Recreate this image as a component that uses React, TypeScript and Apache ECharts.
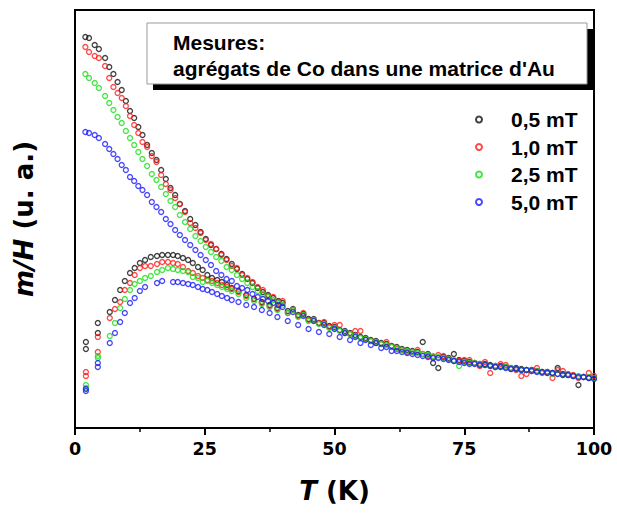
import React, { useEffect, useRef } from 'react';
import * as echarts from 'echarts';

const FONT = '"Liberation Sans", Arial, Helvetica, sans-serif';
const WIDE = '"DejaVu Sans", Verdana, sans-serif';

// Temperature grids (K)
const T_FC = [2, 2.7, 3.8, 4.6, 5.8, 6.6, 7.4, 8.2, 9, 9.8, 10.6, 11.4, 12.2, 13, 13.9, 14.8, 15.7, 16.6, 17.5, 18.4, 19.3, 20.2,
  21.2, 22.2, 23.2, 24.2, 25.2, 26.2, 27.2, 28.2, 29.2, 30.2, 31.2, 32.2, 33.2, 34.2, 35.2, 36.2, 37.2, 38.2, 39.2, 40,
  42, 44, 46, 48, 50, 52, 54, 56, 58, 60, 62, 64, 66, 68, 70, 72, 74, 76, 78, 80, 82, 84, 86, 88, 90, 92, 94, 96, 98, 100];
const T_ZFC = [2.1, 2.1, 4.4, 4.4, 6.7, 7.7, 8.7, 9.6, 10.6, 11.5, 12.5, 13.5, 14.6, 15.8, 16.8, 17.9, 18.9, 19.8, 20.8, 21.8,
  22.7, 23.7, 24.6, 25.5, 26.4, 27.4, 28.3, 29.3, 30.2, 31.5, 33, 34.5, 36, 37.5, 39,
  41, 43, 45, 47, 49, 51, 53, 55, 57, 59, 61, 63, 65, 67, 69, 71, 73, 75, 77, 79, 81, 83, 85, 87, 89, 91, 93, 95, 97, 99];

// m/H (arbitrary units), field-cooled branches
const FC_05 = [391, 390, 383, 379, 370, 361, 354, 346, 338, 327, 317, 310, 301, 293, 283, 275, 268, 258, 249, 240, 233, 224,
  217, 209, 203, 196, 189, 183, 179, 174, 169, 164, 159, 154, 149, 145, 140, 136, 133, 130, 127, 125,
  119, 114, 109, 105, 101, 97, 93, 90, 87, 84, 81, 78, 76, 74, 60, 70, 68, 66, 64, 63, 62, 60, 59, 58, 56, 55, 54, 52, 51, 50];
const FC_10 = [381, 376, 372, 370, 362, 350, 341, 335, 330, 322, 312, 303, 295, 286, 281, 272, 266, 253, 244, 238, 230, 224,
  216, 205, 200, 195, 188, 184, 179, 173, 168, 162, 160, 153, 150, 146, 141, 138, 132, 131, 126, 127,
  118, 115, 108, 106, 103, 95, 97, 89, 85, 86, 79, 76, 78, 72, 73, 69, 67, 68, 62, 55, 64, 59, 52, 58, 55, 50, 57, 53, 51, 52];
const FC_25 = [354, 350, 345, 340, 332, 325, 318, 311, 305, 297, 290, 283, 276, 269, 262, 254, 248, 241, 234, 227, 221, 213,
  206, 199, 192, 187, 181, 176, 171, 167, 161, 158, 153, 149, 145, 141, 137, 134, 131, 128, 125, 123,
  118, 113, 108, 104, 100, 96, 92, 89, 86, 83, 80, 77, 75, 73, 71, 69, 62, 65, 64, 62, 61, 60, 58, 57, 56, 54, 53, 52, 51, 50];
const FC_50 = [296, 295, 293, 290, 284, 279, 274, 269, 263, 258, 251, 247, 242, 238, 233, 226, 221, 216, 209, 204, 198, 193,
  188, 183, 178, 173, 168, 163, 157, 153, 149, 147, 142, 140, 138, 134, 131, 129, 127, 125, 123, 121,
  116, 112, 107, 103, 99, 95, 91, 88, 85, 81, 77, 75, 73, 71, 70, 68, 66, 64, 63, 62, 61, 59, 58, 57, 56, 55, 53, 52, 51, 49];

// zero-field-cooled branches
const ZFC_05 = [86, 79, 105, 95, 116, 128, 138, 147, 155, 160, 165, 168, 171, 172, 173, 173, 173, 172, 170, 168,
  165, 161, 158, 153, 150, 148, 146, 143, 140, 137, 133, 129, 126, 123, 120,
  117, 113, 109, 105, 102, 98, 95, 91, 88, 85, 82, 79, 77, 86, 65, 71, 74, 67, 65, 64, 62, 61, 60, 58, 57, 56, 60, 53, 43, 50];
const ZFC_10 = [56, 52, 76, 91, 110, 119, 126, 138, 145, 153, 160, 162, 162, 164, 166, 166, 165, 164, 161, 157,
  155, 152, 150, 148, 147, 145, 143, 141, 139, 136, 132, 129, 125, 122, 119,
  115, 112, 108, 105, 101, 103, 94, 97, 87, 84, 82, 78, 76, 74, 71, 72, 67, 68, 65, 66, 61, 63, 58, 54, 60, 56, 58, 54, 50, 55];
const ZFC_25 = [40, 43, 70, 72, 92, 105, 120, 129, 138, 144, 147, 150, 152, 156, 158, 160, 159, 158, 157, 156,
  151, 150, 146, 147, 145, 143, 141, 139, 137, 134, 130, 127, 124, 121, 118,
  115, 111, 107, 104, 100, 97, 94, 90, 87, 84, 81, 78, 76, 74, 72, 70, 68, 66, 65, 63, 62, 61, 59, 58, 57, 55, 54, 53, 52, 51];
const ZFC_50: (number | string)[] = [37, 39, 61, 65, 85, 95, 106, 115, 125, 130, 137, 141, '-', 145, 147, '-', 146, 146, 145, 144,
  143, 141, 139, 138, 136, 134, 132, 130, 128, 126, 123, 121, 118, 115, 111,
  107, 103, 99, 96, 94, 91, 88, 85, 83, 80, 77, 76, 74, 72, 70, 69, 67, 65, 64, 63, 61, 60, 59, 58, 56, 55, 54, 53, 51, 50];

const FIELDS = ['0,5 mT', '1,0 mT', '2,5 mT', '5,0 mT'];
const COLORS = ['#111111', '#ff1a1a', '#16e016', '#1a1aff'];
const X_TICKS = [0, 25, 50, 75, 100];
const BOX_TITLE = 'Mesures:';
const BOX_TEXT = "agrégats de Co dans une matrice d'Au";

const pairs = (t: number[], v: (number | string)[]) => t.map((x, i) => [x, v[i]]);

const nameRich = {
  i: { fontStyle: 'italic', fontWeight: 'bold', fontSize: 26, fontFamily: WIDE, color: '#000' },
  b: { fontWeight: 'bold', fontSize: 26, fontFamily: WIDE, color: '#000' },
};

export default function App() {
  const ref = useRef<HTMLDivElement>(null);
  useEffect(() => {
    const chart = echarts.init(ref.current!, null, { renderer: 'svg' });
    const fc = [FC_05, FC_10, FC_25, FC_50];
    const zfc = [ZFC_05, ZFC_10, ZFC_25, ZFC_50];
    const option: any = {
      animation: false,
      backgroundColor: '#fff',
      textStyle: { fontFamily: FONT },
      grid: { left: 75, right: 23, top: 10, bottom: 90, show: true, borderColor: '#000', borderWidth: 2 },
      xAxis: {
        type: 'value', min: X_TICKS[0], max: X_TICKS[X_TICKS.length - 1], interval: 25,
        axisLine: { show: true, lineStyle: { color: '#000', width: 2 } },
        axisTick: { show: true, length: 7, lineStyle: { color: '#000', width: 2 } },
        minorTick: { show: true, splitNumber: 2, length: 4, lineStyle: { color: '#000', width: 1.5 } },
        splitLine: { show: false },
        axisLabel: { color: '#000', fontSize: 17.5, fontWeight: 'bold', fontFamily: WIDE, margin: 12 },
        name: '{i|T} {b|(K)}', nameLocation: 'middle', nameGap: 50,
        nameTextStyle: { color: '#000', fontSize: 26, fontWeight: 'bold', fontFamily: WIDE, rich: nameRich },
      },
      yAxis: {
        type: 'value', min: 0, max: 418,
        axisLine: { show: false }, axisTick: { show: false }, axisLabel: { show: false }, splitLine: { show: false },
        name: '{i|m/H} {b|(u. a.)}', nameLocation: 'middle', nameGap: 38, nameRotate: 90,
        nameTextStyle: { color: '#000', fontSize: 26, fontWeight: 'bold', fontFamily: WIDE, rich: nameRich },
      },
      legend: {
        orient: 'vertical', left: 475, top: 109, itemWidth: 6, itemHeight: 6, itemGap: 6.5, padding: 0,
        textStyle: { color: '#000', fontSize: 21, fontWeight: 'bold', fontFamily: FONT, lineHeight: 20, padding: [0, 0, 0, 24] },
        data: FIELDS,
      },
      graphic: [
        { type: 'rect', shape: { x: 153, y: 29, width: 440, height: 61 }, style: { fill: '#000' }, z: 10 },
        { type: 'rect', shape: { x: 147, y: 23, width: 440, height: 61 }, style: { fill: '#fff', stroke: '#9a9a9a', lineWidth: 1 }, z: 11 },
        { type: 'text', x: 173, y: 42, z: 12, style: { text: BOX_TITLE, fill: '#000', font: `bold 21px ${FONT}`, verticalAlign: 'middle' } },
        { type: 'text', x: 173, y: 68, z: 12, style: { text: BOX_TEXT, fill: '#000', font: `bold 21px ${FONT}`, verticalAlign: 'middle' } },
      ],
      series: FIELDS.map((name, k) => ({
        name, type: 'scatter', symbol: 'circle', symbolSize: 5,
        itemStyle: { color: 'transparent', borderColor: COLORS[k], borderWidth: 1.3 },
        emphasis: { disabled: true },
        data: [...pairs(T_ZFC, zfc[k]), ...pairs(T_FC, fc[k])],
      })),
    };
    chart.setOption(option);
    return () => chart.dispose();
  }, []);
  return <div ref={ref} style={{ position: 'fixed', left: 0, top: 0, width: 617, height: 518 }} />;
}
